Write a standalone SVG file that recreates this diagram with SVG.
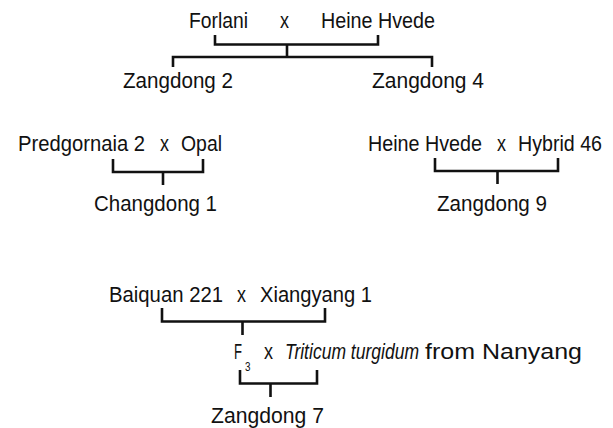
<svg xmlns="http://www.w3.org/2000/svg" width="613" height="428" viewBox="0 0 613 428">
<style>
text{font-family:"Liberation Sans","DejaVu Sans",sans-serif;font-size:22px;fill:#111}
.it{font-style:italic}
.sub{font-size:12px}
.c path{fill:none;stroke:#111;stroke-width:2.6;stroke-linejoin:miter}
</style>
<rect width="613" height="428" fill="#fff"/>
<g id="forlani"><text x="189" y="28" textLength="59" lengthAdjust="spacingAndGlyphs">Forlani</text></g>
<g id="cross1"><text x="280" y="28" textLength="9" lengthAdjust="spacingAndGlyphs">x</text></g>
<g id="heinehvede1"><text x="321" y="28" textLength="114" lengthAdjust="spacingAndGlyphs">Heine Hvede</text></g>
<g id="zangdong2"><text x="123" y="88" textLength="110" lengthAdjust="spacingAndGlyphs">Zangdong 2</text></g>
<g id="zangdong4"><text x="372" y="88" textLength="112" lengthAdjust="spacingAndGlyphs">Zangdong 4</text></g>
<g id="predgornaia2"><text x="18" y="151" textLength="127" lengthAdjust="spacingAndGlyphs">Predgornaia 2</text></g>
<g id="cross2"><text x="160" y="151" textLength="9" lengthAdjust="spacingAndGlyphs">x</text></g>
<g id="opal"><text x="181" y="151" textLength="41" lengthAdjust="spacingAndGlyphs">Opal</text></g>
<g id="changdong1"><text x="94" y="211" textLength="123" lengthAdjust="spacingAndGlyphs">Changdong 1</text></g>
<g id="heinehvede2"><text x="368" y="151" textLength="114" lengthAdjust="spacingAndGlyphs">Heine Hvede</text></g>
<g id="cross3"><text x="497" y="151" textLength="9" lengthAdjust="spacingAndGlyphs">x</text></g>
<g id="hybrid46"><text x="518" y="151" textLength="84" lengthAdjust="spacingAndGlyphs">Hybrid 46</text></g>
<g id="zangdong9"><text x="437" y="211" textLength="110" lengthAdjust="spacingAndGlyphs">Zangdong 9</text></g>
<g id="baiquan221"><text x="109" y="302" textLength="114" lengthAdjust="spacingAndGlyphs">Baiquan 221</text></g>
<g id="cross4"><text x="237" y="302" textLength="9" lengthAdjust="spacingAndGlyphs">x</text></g>
<g id="xiangyang1"><text x="260" y="302" textLength="112" lengthAdjust="spacingAndGlyphs">Xiangyang 1</text></g>
<g id="f3"><text x="234" y="359"><tspan textLength="8" lengthAdjust="spacingAndGlyphs">F</tspan><tspan class="sub" x="245" y="371" textLength="5.5" lengthAdjust="spacingAndGlyphs">3</tspan></text></g>
<g id="cross5"><text x="264" y="359" textLength="9" lengthAdjust="spacingAndGlyphs">x</text></g>
<g id="turgidum"><text x="285" y="359"><tspan class="it" textLength="134" lengthAdjust="spacingAndGlyphs">Triticum turgidum</tspan><tspan x="425" textLength="157" lengthAdjust="spacingAndGlyphs">from Nanyang</tspan></text></g>
<g id="zangdong7"><text x="211" y="423" textLength="113" lengthAdjust="spacingAndGlyphs">Zangdong 7</text></g>
<g class="c" id="connectors">
<path d="M215,35V44.5H378V35M287,44.5V57M173,67V57H432V67"/>
<path d="M113,159V172H203V159M163,172V185"/>
<path d="M435,158V171H558V158M497.5,171V184"/>
<path d="M162,308V321.5H325V308M242.5,321.5V335"/>
<path d="M240,370V383.5H317V370M270.5,383.5V397"/>
</g>
</svg>
